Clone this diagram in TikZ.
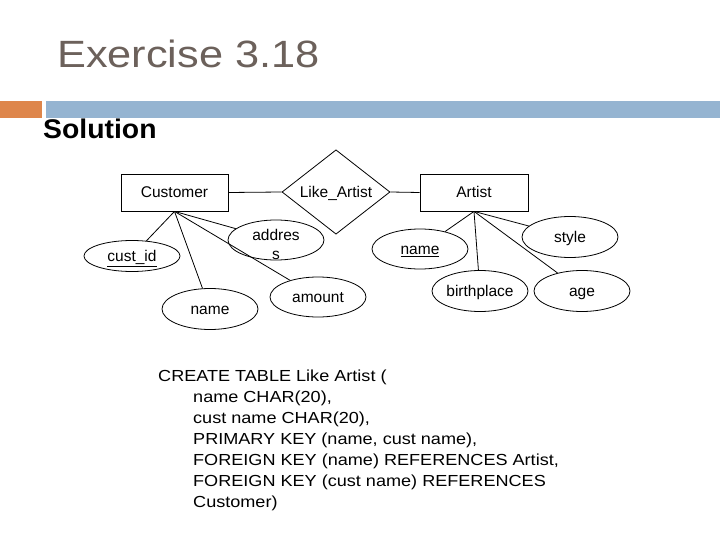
\documentclass[tikz,border=0pt]{standalone}
\usepackage{fontspec}
\setmainfont{Liberation Sans}
\newfontfamily\titlefont[FakeStretch=1.14]{Liberation Sans}
\newfontfamily\solfont[FakeStretch=1.05]{Liberation Sans}
\newfontfamily\sqlfont[FakeStretch=1.13]{Liberation Sans}
\usepackage{tikz}
\usetikzlibrary{shapes.geometric, positioning}
\definecolor{titlegray}{RGB}{108,97,91}
\definecolor{barorange}{RGB}{222,134,75}
\definecolor{barblue}{RGB}{149,180,209}

\begin{document}
\begin{tikzpicture}[
  x=1pt, y=-1pt,
  font=\fontsize{15.5}{19}\selectfont,
  onetext/.style={
    text height=11.5pt,
    text depth=0.5pt
  },
  entity/.style={
    draw,
    onetext,
    line width=0.8pt,
    minimum width=107pt,
    minimum height=37pt,
    inner sep=0pt
  },
  relation/.style={
    draw,
    diamond,
    onetext,
    line width=0.8pt,
    minimum width=108pt,
    minimum height=71pt,
    inner sep=0pt
  },
  attr/.style={
    draw,
    ellipse,
    onetext,
    line width=0.8pt,
    minimum width=96pt,
    minimum height=40pt,
    inner sep=0pt
  },
  link/.style={
    draw,
    line width=0.8pt
  },
  sqlline/.style={
    anchor=base west,
    inner sep=0pt,
    font=\sqlfont\fontsize{16}{19}\selectfont
  }
]

\fill[white] (0,0) rectangle (720,540);
\useasboundingbox (0,0) rectangle (720,540);

% Title and bars
\node[anchor=base west, inner sep=0pt, text=titlegray,
  font=\titlefont\fontsize{38}{44}\selectfont] (title) at (57,68)
{Exercise 3.18};

\fill[barorange] (0,101) rectangle (41.5,118.5);
\fill[barblue] (45.5,101) rectangle (720,118.5);

\node[anchor=base west, inner sep=0pt,
  font=\solfont\bfseries\fontsize{27}{32}\selectfont] (solution) at (43,139)
{Solution};

% Entities and relationship
\node[entity] (customer) at (174.5,192.5) {Customer};
\node[relation] (likeartist) at (336,192) {Like\_Artist};
\node[entity, minimum width=108pt] (artist) at (474,192.5) {Artist};

% Customer attributes
\node[attr, minimum height=31pt] (custid) at (132,256) {\underline{cust\_id}};
\node[attr, minimum height=41pt] (custname) at (210,309) {name};
\node[attr, font=\fontsize{15.5}{19.5}\selectfont] (address) at (276,240)
  {\smash{\raisebox{5.5pt}{\begin{tabular}[t]{@{}c@{}}addres\\s\end{tabular}}}};
\node[attr] (amount) at (318,297) {amount};

% Artist attributes
\node[attr] (artistname) at (420,249) {\underline{name}};
\node[attr, minimum height=41pt] (style) at (570,237) {style};
\node[attr, minimum height=41pt] (birthplace) at (480,291) {birthplace};
\node[attr, minimum height=41pt] (age) at (582,291) {age};

% Connectors
\draw[link] (customer.east) -- (likeartist.west);
\draw[link] (likeartist.east) -- (artist.west);

\draw[link] (customer.south) -- (custid);
\draw[link] (customer.south) -- (custname);
\draw[link] (customer.south) -- (address);
\draw[link] (customer.south) -- (amount);

\draw[link] (artist.south) -- (artistname);
\draw[link] (artist.south) -- (style);
\draw[link] (artist.south) -- (birthplace);
\draw[link] (artist.south) -- (age);

% SQL
\node[sqlline] (sql0) at (158,381) {CREATE TABLE Like Artist (};
\foreach \txt [count=\i] in {
  {name CHAR(20),},
  {cust name CHAR(20),},
  {PRIMARY KEY (name, cust name),},
  {FOREIGN KEY (name) REFERENCES Artist,},
  {FOREIGN KEY (cust name) REFERENCES},
  {Customer)}}
  \node[sqlline] (sql\i) at (193,381+21.1*\i) {\txt};

\end{tikzpicture}
\end{document}
